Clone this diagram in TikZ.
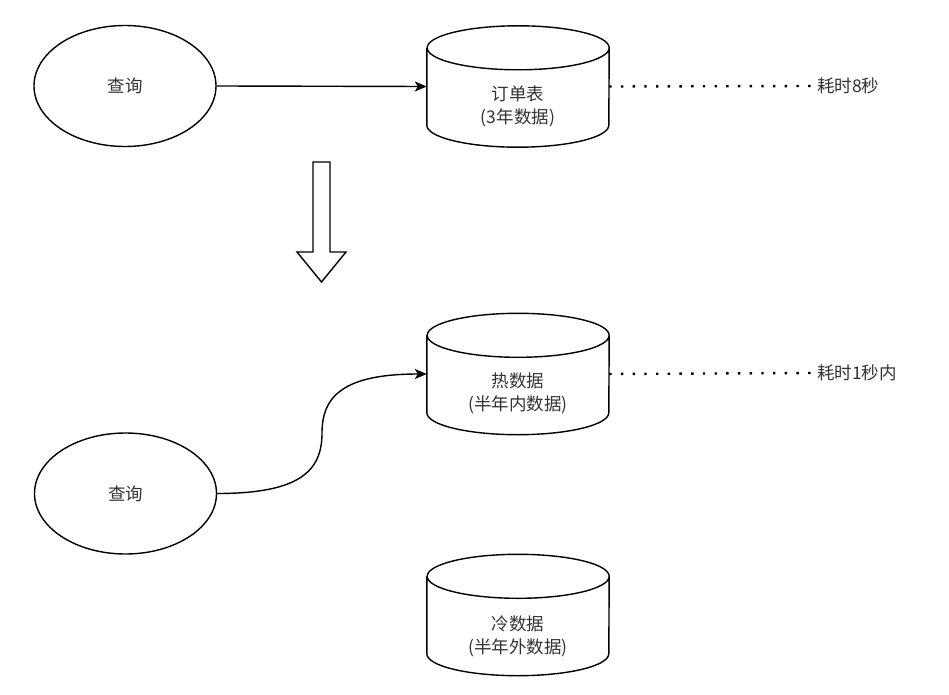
\documentclass[tikz,border=0pt]{standalone}
\usepackage{fontspec}
\newfontfamily\cjk{Noto Sans CJK SC}
\usetikzlibrary{shapes.geometric,arrows.meta}
\definecolor{txt}{HTML}{333333}
\tikzset{
  shapeline/.style={draw=black,line width=1.4pt},
  oval/.style={shapeline,ellipse,minimum width=182pt,minimum height=121pt,inner sep=0pt,
    font=\cjk\fontsize{17.5}{23}\selectfont,text=txt},
  cylbox/.style={draw=none,rectangle,minimum width=182pt,minimum height=121pt,inner sep=0pt},
  cyltext/.style={align=center,inner sep=0pt,font=\cjk\fontsize{17.5}{23}\selectfont,text=txt},
  sidetext/.style={anchor=west,inner sep=6pt,font=\cjk\fontsize{17.5}{23}\selectfont,text=txt},
  conn/.style={line width=1.4pt,-{Stealth[length=12pt,width=10pt,inset=3pt]}},
  dots/.style={line width=2.4pt,dash pattern=on 2.4pt off 9.3pt},
}
\newcommand\drawcyl[1]{%
  \draw[shapeline] ([yshift=-22pt]#1.north west) -- ([yshift=22pt]#1.south west)
    arc[start angle=180,end angle=360,x radius=91pt,y radius=22pt]
    -- ([yshift=-22pt]#1.north east)
    arc[start angle=0,end angle=360,x radius=91pt,y radius=22pt];}
\begin{document}
\begin{tikzpicture}[x=1pt,y=-1pt]
\useasboundingbox (0,0) rectangle (949,695);
% top part
\node[oval] (e1) at (125,86) {查询};
\node[cylbox] (c1) at (518,86.5) {};
\drawcyl{c1}
\node[cyltext] (c1t) at (518,106) {订单表\\(3年数据)};
\draw[conn] (e1.east) -- (c1.west);
\node[sidetext] (t1) at (811,86) {耗时8秒};
\draw[dots] (c1.east) -- (t1.west);
% big hollow arrow
\draw[line width=1.4pt,fill=white] (313,162) -- (330,162) -- (330,252) -- (346,252)
  -- (321.5,282) -- (297,252) -- (313,252) -- cycle;
% bottom part
\node[cylbox] (c2) at (518,374) {};
\drawcyl{c2}
\node[cyltext] (c2t) at (518,393.5) {热数据\\(半年内数据)};
\node[sidetext] (t2) at (811,373) {耗时1秒内};
\draw[dots] (c2.east) -- (t2.west);
\node[oval] (e2) at (125.5,493.5) {查询};
\coordinate (bend) at (322,433);
\draw[conn] (e2.east) .. controls +(84,0) and +(0,37) .. (bend)
  .. controls +(0,-37) and +(-83,0) .. (c2.west);
\node[cylbox] (c3) at (518,615) {};
\drawcyl{c3}
\node[cyltext] (c3t) at (518,636.5) {冷数据\\(半年外数据)};
\end{tikzpicture}
\end{document}
